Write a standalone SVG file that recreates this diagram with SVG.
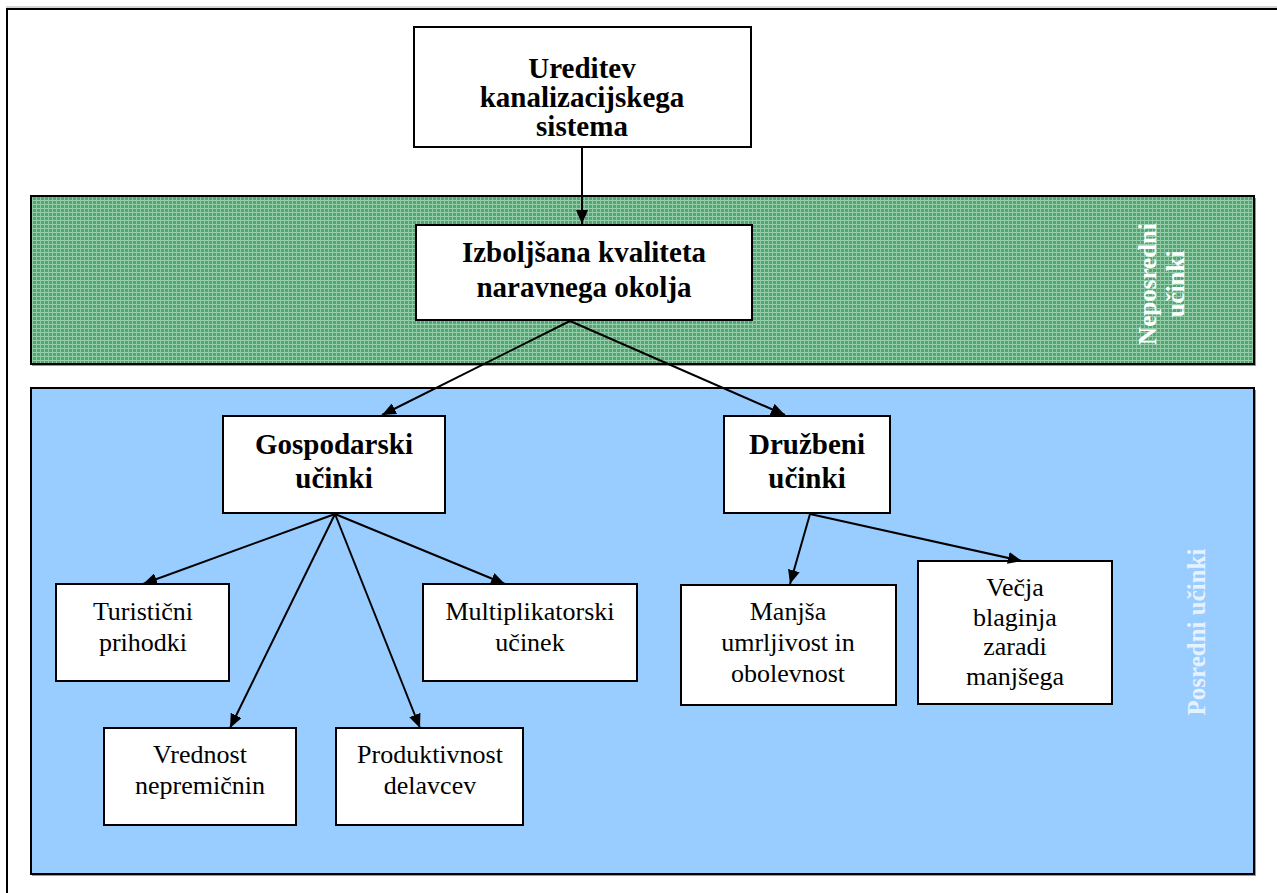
<svg xmlns="http://www.w3.org/2000/svg" width="1277" height="893" viewBox="0 0 1277 893">
<defs>
<pattern id="grid" width="4" height="4" patternUnits="userSpaceOnUse">
<rect width="4" height="4" fill="#52a675"/>
<rect x="0" y="0" width="4" height="1" fill="#9ad1ae"/>
<rect x="0" y="0" width="1" height="4" fill="#8ec9a3"/>
</pattern>
<marker id="ah" viewBox="0 0 14 12" refX="14" refY="6" markerWidth="14" markerHeight="12" markerUnits="userSpaceOnUse" orient="auto">
<path d="M0,0 L14,6 L0,12 Z" fill="#000"/>
</marker>
<style>
.box{fill:#fff;stroke:#000;stroke-width:2}
text{font-family:"Liberation Serif","Times New Roman",Tinos,"DejaVu Serif",serif}
.b{font-weight:bold;font-size:29px;fill:#000;text-anchor:middle}
.n{font-size:26px;fill:#000;text-anchor:middle}
.side{font-weight:bold;font-size:25px;fill:#fff;text-anchor:middle}
.conn line{stroke:#000;stroke-width:2;marker-end:url(#ah)}
</style>
</defs>
<rect width="1277" height="893" fill="#fff"/>
<g id="frame">
<line x1="6" y1="7" x2="1277" y2="7" stroke="#aaa" stroke-width="1"/>
<line x1="6" y1="9" x2="1277" y2="9" stroke="#000" stroke-width="2"/>
<line x1="7" y1="8" x2="7" y2="893" stroke="#000" stroke-width="2"/>
</g>
<g id="band-neposredni">
<rect x="32" y="198" width="1224" height="168" fill="#999"/>
<rect x="31" y="196" width="1223" height="168" fill="url(#grid)" stroke="#000" stroke-width="2"/>
<text class="side" transform="translate(1156,284) rotate(-90)">Neposredni</text>
<text class="side" transform="translate(1184,284) rotate(-90)">učinki</text>
</g>
<g id="band-posredni">
<rect x="32" y="390" width="1224" height="486" fill="#999"/>
<rect x="31" y="388" width="1223" height="486" fill="#99ccff" stroke="#000" stroke-width="2"/>
<text class="side" transform="translate(1205,632) rotate(-90)" style="fill:#e6f2ff">Posredni učinki</text>
</g>
<g id="n-ureditev">
<rect class="box" x="414" y="27" width="337" height="120"/>
<text class="b" x="582" y="78">Ureditev</text>
<text class="b" x="582" y="107">kanalizacijskega</text>
<text class="b" x="582" y="136">sistema</text>
</g>
<g id="n-izboljsana">
<rect class="box" x="416" y="225" width="336" height="95"/>
<text class="b" x="584" y="262">Izboljšana kvaliteta</text>
<text class="b" x="584" y="297">naravnega okolja</text>
</g>
<g id="n-gospodarski">
<rect class="box" x="223" y="416" width="222" height="97"/>
<text class="b" x="334" y="454">Gospodarski</text>
<text class="b" x="334" y="488">učinki</text>
</g>
<g id="n-druzbeni">
<rect class="box" x="724" y="416" width="166" height="97"/>
<text class="b" x="807" y="454">Družbeni</text>
<text class="b" x="807" y="488">učinki</text>
</g>
<g id="n-turisticni">
<rect class="box" x="56" y="584" width="173" height="97"/>
<text class="n" x="143" y="620">Turistični</text>
<text class="n" x="143" y="651">prihodki</text>
</g>
<g id="n-multiplikatorski">
<rect class="box" x="423" y="584" width="214" height="97"/>
<text class="n" x="530" y="620">Multiplikatorski</text>
<text class="n" x="530" y="651">učinek</text>
</g>
<g id="n-vrednost">
<rect class="box" x="104" y="728" width="192" height="97"/>
<text class="n" x="200" y="763">Vrednost</text>
<text class="n" x="200" y="794">nepremičnin</text>
</g>
<g id="n-produktivnost">
<rect class="box" x="336" y="728" width="187" height="97"/>
<text class="n" x="430" y="763">Produktivnost</text>
<text class="n" x="430" y="794">delavcev</text>
</g>
<g id="n-manjsa">
<rect class="box" x="681" y="585" width="215" height="120"/>
<text class="n" x="788" y="620">Manjša</text>
<text class="n" x="788" y="651">umrljivost in</text>
<text class="n" x="788" y="682">obolevnost</text>
</g>
<g id="n-vecja">
<rect class="box" x="918" y="561" width="194" height="143"/>
<text class="n" x="1015" y="596">Večja</text>
<text class="n" x="1015" y="626">blaginja</text>
<text class="n" x="1015" y="655">zaradi</text>
<text class="n" x="1015" y="685">manjšega</text>
</g>
<g id="connectors" class="conn">
<line x1="582" y1="147" x2="582" y2="224"/>
<line x1="570" y1="321" x2="382" y2="415"/>
<line x1="570" y1="321" x2="785" y2="415"/>
<line x1="335" y1="514" x2="143" y2="584"/>
<line x1="335" y1="514" x2="230" y2="728"/>
<line x1="335" y1="514" x2="420" y2="728"/>
<line x1="335" y1="514" x2="505" y2="584"/>
<line x1="810" y1="514" x2="790" y2="584"/>
<line x1="810" y1="514" x2="1022" y2="561"/>
</g>
</svg>
